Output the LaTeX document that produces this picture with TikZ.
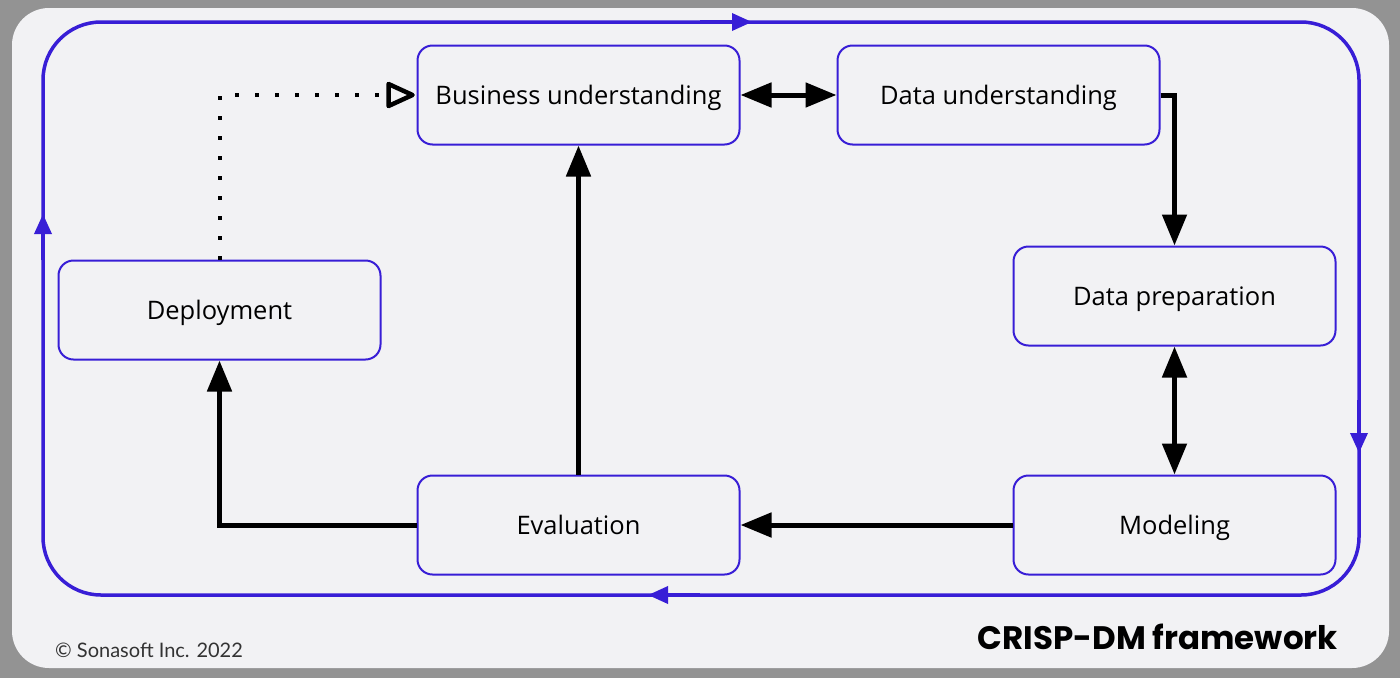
\documentclass[tikz,border=0pt]{standalone}
\usepackage{fontspec}
\setmainfont{Open Sans}
\newfontfamily\titlefont{Poppins}
\newfontfamily\copyfont{Lato}
\usetikzlibrary{arrows.meta}
\definecolor{loopblue}{RGB}{56,30,214}
\definecolor{cardbg}{RGB}{242,242,244}
\definecolor{pagegrey}{RGB}{147,147,147}
\tikzset{
  stage/.style={draw=loopblue, line width=2pt, fill=cardbg, rounded corners=15pt,
    minimum width=322pt, minimum height=99pt, inner sep=0pt,
    font=\fontsize{25.5}{29}\selectfont, text height=18pt, text depth=0pt},
  flow/.style={line width=5pt, draw=black, -{Triangle[length=31pt,width=24pt]}},
  flowboth/.style={line width=5pt, draw=black, {Triangle[length=31pt,width=24pt]}-{Triangle[length=31pt,width=24pt]}},
  deploydots/.style={line width=4pt, draw=black, dash pattern=on 4pt off 16pt},
  opentip/.style={line width=4.5pt, draw=black, fill=cardbg, line join=round},
  loopline/.style={draw=loopblue, line width=3.5pt},
  looparrow/.style={draw=loopblue, line width=3.5pt, -{Triangle[length=20pt,width=17pt]}},
}
\begin{document}
\begin{tikzpicture}[x=1pt,y=-1pt]
\fill[pagegrey] (0,0) rectangle (1400,678);
\useasboundingbox (0,0) rectangle (1400,678);
\fill[cardbg, rounded corners=37pt] (12,8) rectangle (1389,668);
% outer loop
\draw[loopline, rounded corners=58pt] (43,22) rectangle (1359,595);
\coordinate (t1) at (700,22); \coordinate (t2) at (752,22);
\coordinate (r1) at (1359,400); \coordinate (r2) at (1359,453);
\coordinate (b1) at (700,595); \coordinate (b2) at (648,595);
\coordinate (l1) at (43,260); \coordinate (l2) at (43,214);
\draw[looparrow] (t1) -- (t2);
\draw[looparrow] (r1) -- (r2);
\draw[looparrow] (b1) -- (b2);
\draw[looparrow] (l1) -- (l2);
% stages
\node[stage] (bu) at (578.5,95) {Business understanding};
\node[stage] (du) at (998.5,95) {Data understanding};
\node[stage] (dp) at (1174.5,296) {Data preparation};
\node[stage] (mo) at (1174.5,525) {Modeling};
\node[stage] (ev) at (578.5,525) {Evaluation};
\node[stage] (de) at (219.5,310) {Deployment};
% connectors
\draw[flowboth] (bu.east) -- (du.west);
\draw[flow] (du.east) -- ++(14,0) -- (dp.north);
\draw[flowboth] (dp.south) -- (mo.north);
\draw[flow] (mo.west) -- (ev.east);
\draw[flow] (ev.north) -- (bu.south);
\draw[flow] (ev.west) -| (de.south);
\coordinate (dtip) at ([xshift=-4pt]bu.west);
\coordinate (dbase) at ([xshift=-28pt]bu.west);
\draw[deploydots] (de.north) |- (dbase);
\draw[opentip] (dtip) -- ([yshift=-11pt]dbase) -- ([yshift=11pt]dbase) -- cycle;
% texts
\node[anchor=base west, inner sep=0pt, font=\copyfont\fontsize{20}{22}\selectfont, text=black!80] (copy) at (55,657) {\copyfont © Sonasoft Inc. 2022};
\node[anchor=base east, inner sep=0pt, font=\titlefont\bfseries\fontsize{32.5}{36}\selectfont] (title) at (1338,649) {CRISP-DM framework};
\end{tikzpicture}
\end{document}
